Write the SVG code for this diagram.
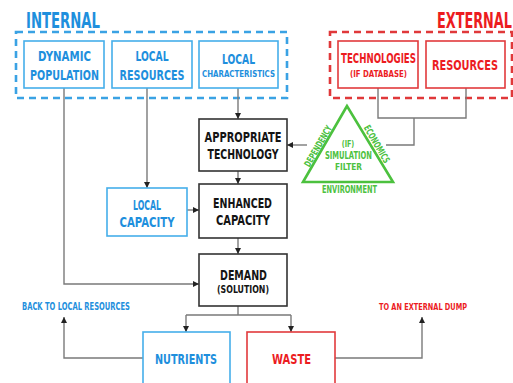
<svg xmlns="http://www.w3.org/2000/svg" width="513" height="383" viewBox="0 0 513 383">
<defs>
<marker id="arr" markerUnits="userSpaceOnUse" markerWidth="7" markerHeight="7" refX="6" refY="3" orient="auto">
<path d="M0,0 L6,3 L0,6 z" fill="#222"/>
</marker>
<style>
text{font-family:"DejaVu Sans Condensed","DejaVu Sans",sans-serif;font-weight:bold;font-stretch:condensed;text-anchor:middle}
.lt{text-anchor:start}
.b{fill:#1e8fdd}
.r{fill:#ec1c1f}
.k{fill:#141414}
.g{fill:#4cc13e}
.bb{fill:#fff;stroke:#45aeea;stroke-width:1.6}
.rb{fill:#fff;stroke:#e23a3c;stroke-width:1.6}
.kb{fill:#fff;stroke:#333;stroke-width:1.6}
.dash{fill:none;stroke-width:2.6;stroke-dasharray:7 5}
.ln{fill:none;stroke:#7a7a7a;stroke-width:1.4}
.arr{marker-end:url(#arr)}
</style>
</defs>
<rect width="513" height="383" fill="#fff"/>

<g id="internal-group">
<rect class="dash" x="16" y="32" width="271" height="66" stroke="#3aa2e4"/>
<text class="b lt" transform="translate(26,28) scale(1,1.4)" font-size="14.7" textLength="74" lengthAdjust="spacingAndGlyphs">INTERNAL</text>
</g>
<g id="external-group">
<rect class="dash" x="330" y="32" width="182" height="66" stroke="#e0383a"/>
<text class="r lt" transform="translate(437,28) scale(1,1.44)" font-size="14.2" textLength="75" lengthAdjust="spacingAndGlyphs">EXTERNAL</text>
</g>

<g id="connectors">
<path class="ln arr" d="M64 88 V284 H199"/>
<path class="ln arr" d="M147 88 V188"/>
<path class="ln arr" d="M238 88 V119"/>
<path class="ln" d="M378 88 V118 H466 V88"/>
<path class="ln" d="M414 118 V145 H386"/>
<path class="ln arr" d="M307 145 H287"/>
<path class="ln arr" d="M238 171 V184"/>
<path class="ln arr" d="M187 210 H199"/>
<path class="ln arr" d="M238 238 V254"/>
<path class="ln" d="M238 306 V315 M186 315 H291"/>
<path class="ln arr" d="M186 315 V332"/>
<path class="ln arr" d="M291 315 V332"/>
<path class="ln arr" d="M143 358 H64 V317"/>
<path class="ln arr" d="M335 358 H422 V317"/>
</g>

<g id="dynamic-population">
<rect class="bb" x="24" y="41" width="80" height="47"/>
<text class="b" transform="translate(64.5,61) scale(1,1.29)" font-size="11.2" textLength="53" lengthAdjust="spacingAndGlyphs">DYNAMIC</text>
<text class="b" transform="translate(64.5,80) scale(1,1.36)" font-size="10.6" textLength="69" lengthAdjust="spacingAndGlyphs">POPULATION</text>
</g>
<g id="local-resources">
<rect class="bb" x="112" y="41" width="80" height="47"/>
<text class="b" transform="translate(152,61) scale(1,1.43)" font-size="10.1" textLength="33" lengthAdjust="spacingAndGlyphs">LOCAL</text>
<text class="b" transform="translate(152,80) scale(1,1.35)" font-size="10.7" textLength="65" lengthAdjust="spacingAndGlyphs">RESOURCES</text>
</g>
<g id="local-characteristics">
<rect class="bb" x="199" y="41" width="79" height="47"/>
<text class="b" transform="translate(238.5,64) scale(1,1.43)" font-size="10.1" textLength="33" lengthAdjust="spacingAndGlyphs">LOCAL</text>
<text class="b" transform="translate(238.5,76.5) scale(1,1.15)" font-size="7.8" textLength="73" lengthAdjust="spacingAndGlyphs">CHARACTERISTICS</text>
</g>
<g id="technologies">
<rect class="rb" x="338" y="41" width="80" height="47"/>
<text class="r" transform="translate(378.5,63) scale(1,1.5)" font-size="9.55" textLength="75" lengthAdjust="spacingAndGlyphs">TECHNOLOGIES</text>
<text class="r" transform="translate(378.5,77) scale(1,1.17)" font-size="7.6" textLength="57" lengthAdjust="spacingAndGlyphs">(IF DATABASE)</text>
</g>
<g id="external-resources">
<rect class="rb" x="426" y="41" width="79" height="47"/>
<text class="r" transform="translate(465,70) scale(1,1.33)" font-size="10.85" textLength="66" lengthAdjust="spacingAndGlyphs">RESOURCES</text>
</g>
<g id="appropriate-technology">
<rect class="kb" x="199" y="119" width="88" height="52"/>
<text class="k" transform="translate(243,142) scale(1,1.31)" font-size="11" textLength="77" lengthAdjust="spacingAndGlyphs">APPROPRIATE</text>
<text class="k" transform="translate(243,159) scale(1,1.4)" font-size="10.3" textLength="71" lengthAdjust="spacingAndGlyphs">TECHNOLOGY</text>
</g>
<g id="simulation-filter">
<polygon points="347,106 303,182 393,182" fill="none" stroke="#4cc13e" stroke-width="2.6"/>
<text class="g" transform="translate(348,147) scale(1,1.35)" font-size="7" textLength="12.5" lengthAdjust="spacingAndGlyphs">(IF)</text>
<text class="g" transform="translate(348.5,159) scale(1,1.3)" font-size="7.4" textLength="47" lengthAdjust="spacingAndGlyphs">SIMULATION</text>
<text class="g" transform="translate(348.5,170) scale(1,1.22)" font-size="7.8" textLength="27" lengthAdjust="spacingAndGlyphs">FILTER</text>
<text class="g" transform="translate(349.5,193) scale(1,1.35)" font-size="7.3" textLength="55" lengthAdjust="spacingAndGlyphs">ENVIRONMENT</text>
<text class="g" transform="translate(318,146) rotate(-60) translate(0,3.5) scale(1,1.4)" font-size="6.8" textLength="46" lengthAdjust="spacingAndGlyphs">DEPENDENCY</text>
<text class="g" transform="translate(377,144) rotate(60) translate(0,3.5) scale(1,1.4)" font-size="6.9" textLength="42" lengthAdjust="spacingAndGlyphs">ECONOMICS</text>
</g>
<g id="local-capacity">
<rect class="bb" x="107" y="188" width="80" height="48"/>
<text class="b" transform="translate(147,210) scale(1,1.5)" font-size="9.5" textLength="28" lengthAdjust="spacingAndGlyphs">LOCAL</text>
<text class="b" transform="translate(147,227) scale(1,1.3)" font-size="11.1" textLength="55" lengthAdjust="spacingAndGlyphs">CAPACITY</text>
</g>
<g id="enhanced-capacity">
<rect class="kb" x="199" y="184" width="88" height="54"/>
<text class="k" transform="translate(242.5,208) scale(1,1.36)" font-size="10.5" textLength="59" lengthAdjust="spacingAndGlyphs">ENHANCED</text>
<text class="k" transform="translate(243,225) scale(1,1.32)" font-size="10.9" textLength="54" lengthAdjust="spacingAndGlyphs">CAPACITY</text>
</g>
<g id="demand">
<rect class="kb" x="199" y="254" width="88" height="52"/>
<text class="k" transform="translate(243.5,280) scale(1,1.36)" font-size="10.5" textLength="47" lengthAdjust="spacingAndGlyphs">DEMAND</text>
<text class="k" transform="translate(243,293) scale(1,1.27)" font-size="8.6" textLength="52" lengthAdjust="spacingAndGlyphs">(SOLUTION)</text>
</g>
<g id="back-label">
<text class="b lt" transform="translate(22,310) scale(1,1.28)" font-size="7.5" textLength="108" lengthAdjust="spacingAndGlyphs">BACK TO LOCAL RESOURCES</text>
</g>
<g id="dump-label">
<text class="r lt" transform="translate(379,310) scale(1,1.31)" font-size="7.3" textLength="88" lengthAdjust="spacingAndGlyphs">TO AN EXTERNAL DUMP</text>
</g>
<g id="nutrients">
<rect class="bb" x="143" y="332" width="87" height="56"/>
<text class="b" transform="translate(186,364) scale(1,1.34)" font-size="10.7" textLength="62" lengthAdjust="spacingAndGlyphs">NUTRIENTS</text>
</g>
<g id="waste">
<rect class="rb" x="247" y="332" width="88" height="56"/>
<text class="r" transform="translate(291.5,364) scale(1,1.32)" font-size="10.9" textLength="39" lengthAdjust="spacingAndGlyphs">WASTE</text>
</g>
</svg>
